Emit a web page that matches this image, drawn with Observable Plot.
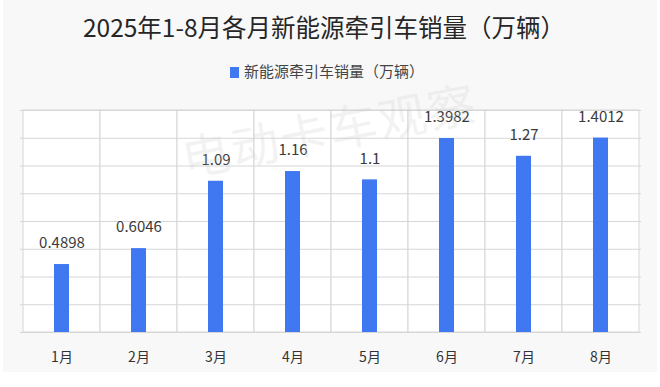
<!DOCTYPE html>
<html>
<head>
<meta charset="utf-8">
<script src="https://cdn.jsdelivr.net/npm/d3@7"></script>
<script src="https://cdn.jsdelivr.net/npm/@observablehq/plot@0.6"></script>
<style>
  html, body { margin: 0; padding: 0; background: #ffffff; }
  #wrap { position: relative; width: 660px; height: 387px; overflow: hidden;
          font-family: "Noto Sans CJK SC", "Noto Sans", sans-serif; }
  #panel { position: absolute; left: 3px; top: 0; width: 654px; height: 372px; background: #f8f8f9; }
  #title { position: absolute; left: -6px; top: 10px; width: 660px; text-align: center;
           font-size: 24.5px; font-weight: 400; color: #262626; letter-spacing: 0px; line-height: 34px; }
  #legend { position: absolute; left: -3px; top: 60px; width: 660px; text-align: center;
            font-size: 15px; color: #444; line-height: 22px; }
  #legend .sw { display: inline-block; width: 9px; height: 11px; background: #4078f2;
                vertical-align: -1px; margin-right: 5px; }
  #chart { position: absolute; left: 0; top: 92px; }
  #wm { position: absolute; left: 175px; top: 122px; font-size: 48px; color: rgba(200,200,200,0.22);
        transform: rotate(-11deg); transform-origin: left top; white-space: nowrap; letter-spacing: 2px;
        pointer-events: none; }
</style>
</head>
<body>
<div id="wrap">
  <div id="panel"></div>
  <div id="title">2025年1-8月各月新能源牵引车销量（万辆）</div>
  <div id="legend"><span class="sw"></span>新能源牵引车销量（万辆）</div>
  <div id="chart"></div>
  <div id="wm">电动卡车观察</div>
</div>
<script>
const months = ["1月","2月","3月","4月","5月","6月","7月","8月"];
const sales = [0.4898, 0.6046, 1.09, 1.16, 1.1, 1.3982, 1.27, 1.4012];
const labels = ["0.4898","0.6046","1.09","1.16","1.1","1.3982","1.27","1.4012"];
const yTicks = [0, 0.2, 0.4, 0.6, 0.8, 1.0, 1.2, 1.4, 1.6];
const yMax = 1.6;

const data = months.map((m, i) => ({month: m, value: sales[i], label: labels[i]}));

const chart = Plot.plot({
  width: 660,
  height: 280,
  marginLeft: 20,
  marginRight: 19,
  marginTop: 18,
  marginBottom: 40,
  style: { background: "transparent", fontFamily: "'Noto Sans CJK SC', 'Noto Sans', sans-serif", overflow: "visible" },
  x: { domain: months, padding: 0 },
  y: { domain: [0, yMax] },
  marks: [
    Plot.barY(months, { x: d => d, y1: 0, y2: () => yMax, fill: "white", stroke: "#d6d6d6", strokeWidth: 1 }),
    Plot.gridY(yTicks, { stroke: "#d6d6d6", strokeOpacity: 1, strokeWidth: 1 }),
    Plot.barY(data, { x: "month", y: "value", fill: "#4078f2", insetLeft: 31, insetRight: 31 }),
    Plot.text(data, { x: "month", y: "value", text: "label", dy: -21, fontSize: 15, fill: "#3a3a3a" }),
    Plot.axisX({ tickSize: 0, tickPadding: 20, fontSize: 14, fill: "#333", label: null }),
    Plot.axisY({ ticks: [], label: null })
  ]
});
document.getElementById("chart").appendChild(chart);
</script>
</body>
</html>
